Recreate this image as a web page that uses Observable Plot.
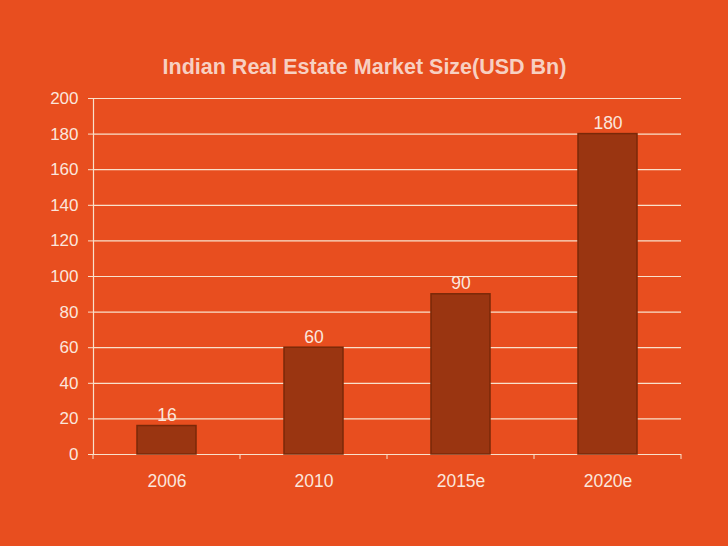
<!DOCTYPE html>
<html>
<head>
<meta charset="utf-8">
<script src="https://cdn.jsdelivr.net/npm/d3@7"></script>
<script src="https://cdn.jsdelivr.net/npm/@observablehq/plot@0.6"></script>
<style>
  html, body { margin: 0; padding: 0; background: #E84E1F; }
  #chart { width: 728px; height: 546px; }
</style>
</head>
<body>
<div id="chart"></div>
<script>
const categories = ["2006", "2010", "2015e", "2020e"];
const values = [16, 60, 90, 180];
const yTicks = [0, 20, 40, 60, 80, 100, 120, 140, 160, 180, 200];
const title = "Indian Real Estate Market Size(USD Bn)";

const data = categories.map((c, i) => ({year: c, value: values[i]}));

const bg = "#E84E1F";
const gridColor = "#F9E1CB";
const textColor = "#FBE6DC";
const barFill = "#9A3511";
const barStroke = "#7A2808";

const plot = Plot.plot({
  width: 728,
  height: 546,
  marginLeft: 93,
  marginRight: 47,
  marginTop: 98,
  marginBottom: 92,
  style: {background: bg, fontFamily: "Liberation Sans, Arial, sans-serif", color: textColor},
  x: {domain: categories, paddingInner: 0.6, paddingOuter: 0.3, label: null},
  y: {domain: [0, 200], label: null},
  marks: [
    Plot.ruleY(yTicks, {stroke: gridColor, strokeWidth: 1.2}),
    Plot.frame({anchor: "left", stroke: gridColor, strokeWidth: 1.2}),
    Plot.axisY({ticks: yTicks, tickSize: 5, tickPadding: 10, stroke: gridColor, fill: textColor, fontSize: 17, label: null}),
    Plot.axisX({tickSize: 0, tickPadding: 20, fill: textColor, fontSize: 17.5, label: null}),
    Plot.barY(data, {x: "year", y: "value", fill: barFill, stroke: barStroke, strokeWidth: 1.5}),
    Plot.text(data, {x: "year", y: "value", text: d => String(d.value), lineAnchor: "bottom", dy: -5, fill: textColor, fontSize: 17.5}),
    Plot.text([title], {frameAnchor: "top", dy: -40, dx: -23, text: d => d, fill: "#F7D0C2", fontSize: 21.5, fontWeight: "bold"})
  ]
});

// category boundary ticks below the baseline, derived from the band scale
const xs = plot.scale("x");
const ys = plot.scale("y");
const xScale = d3.scaleBand().domain(xs.domain).range(xs.range)
  .paddingInner(xs.paddingInner).paddingOuter(xs.paddingOuter).align(xs.align ?? 0.5);
const yScale = d3.scaleLinear().domain(ys.domain).range(ys.range);
const step = xScale.step();
const bounds = categories.map(c => xScale(c) + xScale.bandwidth() / 2 - step / 2);
bounds.push(xScale(categories[categories.length - 1]) + xScale.bandwidth() / 2 + step / 2);
const y0 = yScale(0);
const g = d3.select(plot).append("g").attr("stroke", gridColor).attr("stroke-width", 1);
for (const xv of bounds) {
  g.append("line").attr("x1", xv).attr("x2", xv).attr("y1", y0).attr("y2", y0 + 5);
}

document.getElementById("chart").appendChild(plot);
</script>
</body>
</html>
